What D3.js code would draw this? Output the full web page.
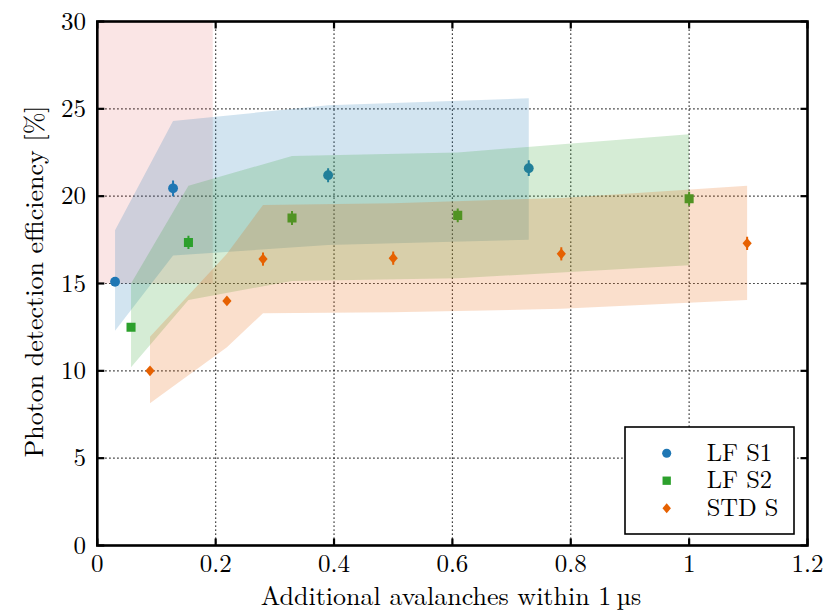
<!DOCTYPE html>
<html>
<head>
<meta charset="utf-8">
<script src="https://cdn.jsdelivr.net/npm/d3@7"></script>
<style>
  html, body { margin: 0; padding: 0; background: #fff; }
  svg { display: block; }
</style>
</head>
<body>
<svg id="chart" width="837" height="613"></svg>
<script>
// ---- data ----
const xTicks = [0, 0.2, 0.4, 0.6, 0.8, 1, 1.2];
const xTickLabels = ["0", "0.2", "0.4", "0.6", "0.8", "1", "1.2"];
const yTicks = [0, 5, 10, 15, 20, 25, 30];
const yTickLabels = ["0", "5", "10", "15", "20", "25", "30"];

const seriesNames = ["LF S1", "LF S2", "STD S"];

const s1X   = [0.03, 0.128, 0.39, 0.729];
const s1Y   = [15.1, 20.45, 21.2, 21.6];
const s1Err = [0.15, 0.45, 0.4, 0.45];
const s1Lo  = [12.3, 16.6, 17.2, 17.5];
const s1Hi  = [18.05, 24.3, 25.2, 25.6];

const s2X   = [0.057, 0.154, 0.329, 0.609, 1.0];
const s2Y   = [12.5, 17.35, 18.75, 18.9, 19.85];
const s2Err = [0.1, 0.38, 0.4, 0.4, 0.4];
const s2Lo  = [10.2, 14.05, 15.15, 15.3, 16.05];
const s2Hi  = [15.0, 20.6, 22.3, 22.5, 23.55];

const s3X   = [0.089, 0.219, 0.28, 0.5, 0.784, 1.098];
const s3Y   = [10.0, 14.0, 16.4, 16.45, 16.7, 17.3];
const s3Err = [0.1, 0.15, 0.38, 0.38, 0.38, 0.38];
const s3Lo  = [8.15, 11.35, 13.3, 13.35, 13.55, 14.05];
const s3Hi  = [11.95, 16.7, 19.5, 19.6, 19.9, 20.6];

// shaded excluded region
const regionX = [0, 0.195];
const regionY = [15, 30];

const colors = ["#1f77b4", "#2ca02c", "#e66101"];
const regionColor = "#d62728";
const FONT = '"Latin Modern Roman", "CMU Serif", "Liberation Serif", serif';

// ---- layout ----
const svg = d3.select("#chart");
const mL = 97.3, mR = 807.5, mT = 21.5, mB = 545.5;
const x = d3.scaleLinear().domain([0, 1.2]).range([mL, mR]);
const y = d3.scaleLinear().domain([0, 30]).range([mB, mT]);

svg.append("clipPath").attr("id", "clip")
  .append("rect").attr("x", mL).attr("y", mT).attr("width", mR - mL).attr("height", mB - mT);

// grid
const grid = svg.append("g");
xTicks.slice(1, -1).forEach(v => {
  grid.append("line").attr("x1", x(v)).attr("x2", x(v)).attr("y1", mT).attr("y2", mB)
    .attr("stroke", "#000").attr("stroke-width", 1.2).attr("stroke-dasharray", "1.3,2.7");
});
yTicks.slice(1, -1).forEach(v => {
  grid.append("line").attr("x1", mL).attr("x2", mR).attr("y1", y(v)).attr("y2", y(v))
    .attr("stroke", "#000").attr("stroke-width", 1.2).attr("stroke-dasharray", "1.3,2.7");
});

const g = svg.append("g").attr("clip-path", "url(#clip)");

// excluded region
g.append("rect")
  .attr("x", x(regionX[0])).attr("y", y(regionY[1]))
  .attr("width", x(regionX[1]) - x(regionX[0])).attr("height", y(regionY[0]) - y(regionY[1]))
  .attr("fill", regionColor).attr("fill-opacity", 0.12);

const series = [
  {X: s1X, Y: s1Y, E: s1Err, Lo: s1Lo, Hi: s1Hi, shape: "circle"},
  {X: s2X, Y: s2Y, E: s2Err, Lo: s2Lo, Hi: s2Hi, shape: "square"},
  {X: s3X, Y: s3Y, E: s3Err, Lo: s3Lo, Hi: s3Hi, shape: "diamond"}
];

function markerPath(shape, s) {
  if (shape === "diamond") return `M0,${-5.4 * s}L${4.6 * s},0L0,${5.4 * s}L${-4.6 * s},0Z`;
  if (shape === "square") return d3.symbol().type(d3.symbolSquare).size(82 * s * s)();
  return d3.symbol().type(d3.symbolCircle).size(76 * s * s)();
}

const area = d3.area().x(d => x(d.x)).y0(d => y(d.lo)).y1(d => y(d.hi));

series.forEach((s, i) => {
  const pts = s.X.map((v, j) => ({x: v, y: s.Y[j], e: s.E[j], lo: s.Lo[j], hi: s.Hi[j]}));
  g.append("path").datum(pts).attr("d", area)
    .attr("fill", colors[i]).attr("fill-opacity", 0.2);
  const mk = g.append("g");
  pts.forEach(p => {
    mk.append("line").attr("x1", x(p.x)).attr("x2", x(p.x))
      .attr("y1", y(p.y - p.e)).attr("y2", y(p.y + p.e))
      .attr("stroke", colors[i]).attr("stroke-width", 2);
    mk.append("path").attr("d", markerPath(s.shape, 1))
      .attr("transform", `translate(${x(p.x)},${y(p.y)})`)
      .attr("fill", colors[i]);
  });
});

// frame
svg.append("rect").attr("x", mL).attr("y", mT).attr("width", mR - mL).attr("height", mB - mT)
  .attr("fill", "none").attr("stroke", "#000").attr("stroke-width", 2.6);

// ticks (inward, all sides)
const tickLen = 7;
xTicks.forEach(v => {
  svg.append("line").attr("x1", x(v)).attr("x2", x(v)).attr("y1", mB).attr("y2", mB - tickLen)
    .attr("stroke", "#000").attr("stroke-width", 2.2);
  svg.append("line").attr("x1", x(v)).attr("x2", x(v)).attr("y1", mT).attr("y2", mT + tickLen)
    .attr("stroke", "#000").attr("stroke-width", 2.2);
});
yTicks.forEach(v => {
  svg.append("line").attr("x1", mL).attr("x2", mL + tickLen).attr("y1", y(v)).attr("y2", y(v))
    .attr("stroke", "#000").attr("stroke-width", 2.2);
  svg.append("line").attr("x1", mR).attr("x2", mR - tickLen).attr("y1", y(v)).attr("y2", y(v))
    .attr("stroke", "#000").attr("stroke-width", 2.2);
});

const txt = (sel) => sel.style("font-family", FONT).attr("fill", "#000");

// tick labels
xTicks.forEach((v, i) => {
  svg.append("text").call(txt).attr("x", x(v)).attr("y", 572).attr("text-anchor", "middle")
    .attr("font-size", 25).text(xTickLabels[i]);
});
yTicks.forEach((v, i) => {
  svg.append("text").call(txt).attr("x", 86).attr("y", y(v) + 8).attr("text-anchor", "end")
    .attr("font-size", 25).text(yTickLabels[i]);
});

// axis labels
svg.append("text").call(txt).attr("x", 451).attr("y", 605).attr("text-anchor", "middle")
  .attr("font-size", 26).text("Additional avalanches within 1\u2009\u00b5s");
svg.append("text").call(txt).attr("transform", "translate(43,281.5) rotate(-90)").attr("text-anchor", "middle")
  .attr("font-size", 26).text("Photon detection efficiency [%]");

// legend
const lg = svg.append("g");
lg.append("rect").attr("x", 625).attr("y", 427).attr("width", 169).attr("height", 107)
  .attr("fill", "#fff").attr("stroke", "#000").attr("stroke-width", 1.6);
const legY = [453.3, 480.7, 508.3];
series.forEach((s, i) => {
  lg.append("path").attr("d", markerPath(s.shape, 0.92))
    .attr("transform", `translate(666.7,${legY[i]})`).attr("fill", colors[i]);
  lg.append("text").call(txt).attr("x", 706.7).attr("y", legY[i] + 7.5).attr("font-size", 24.5).text(seriesNames[i]);
});
</script>
</body>
</html>
